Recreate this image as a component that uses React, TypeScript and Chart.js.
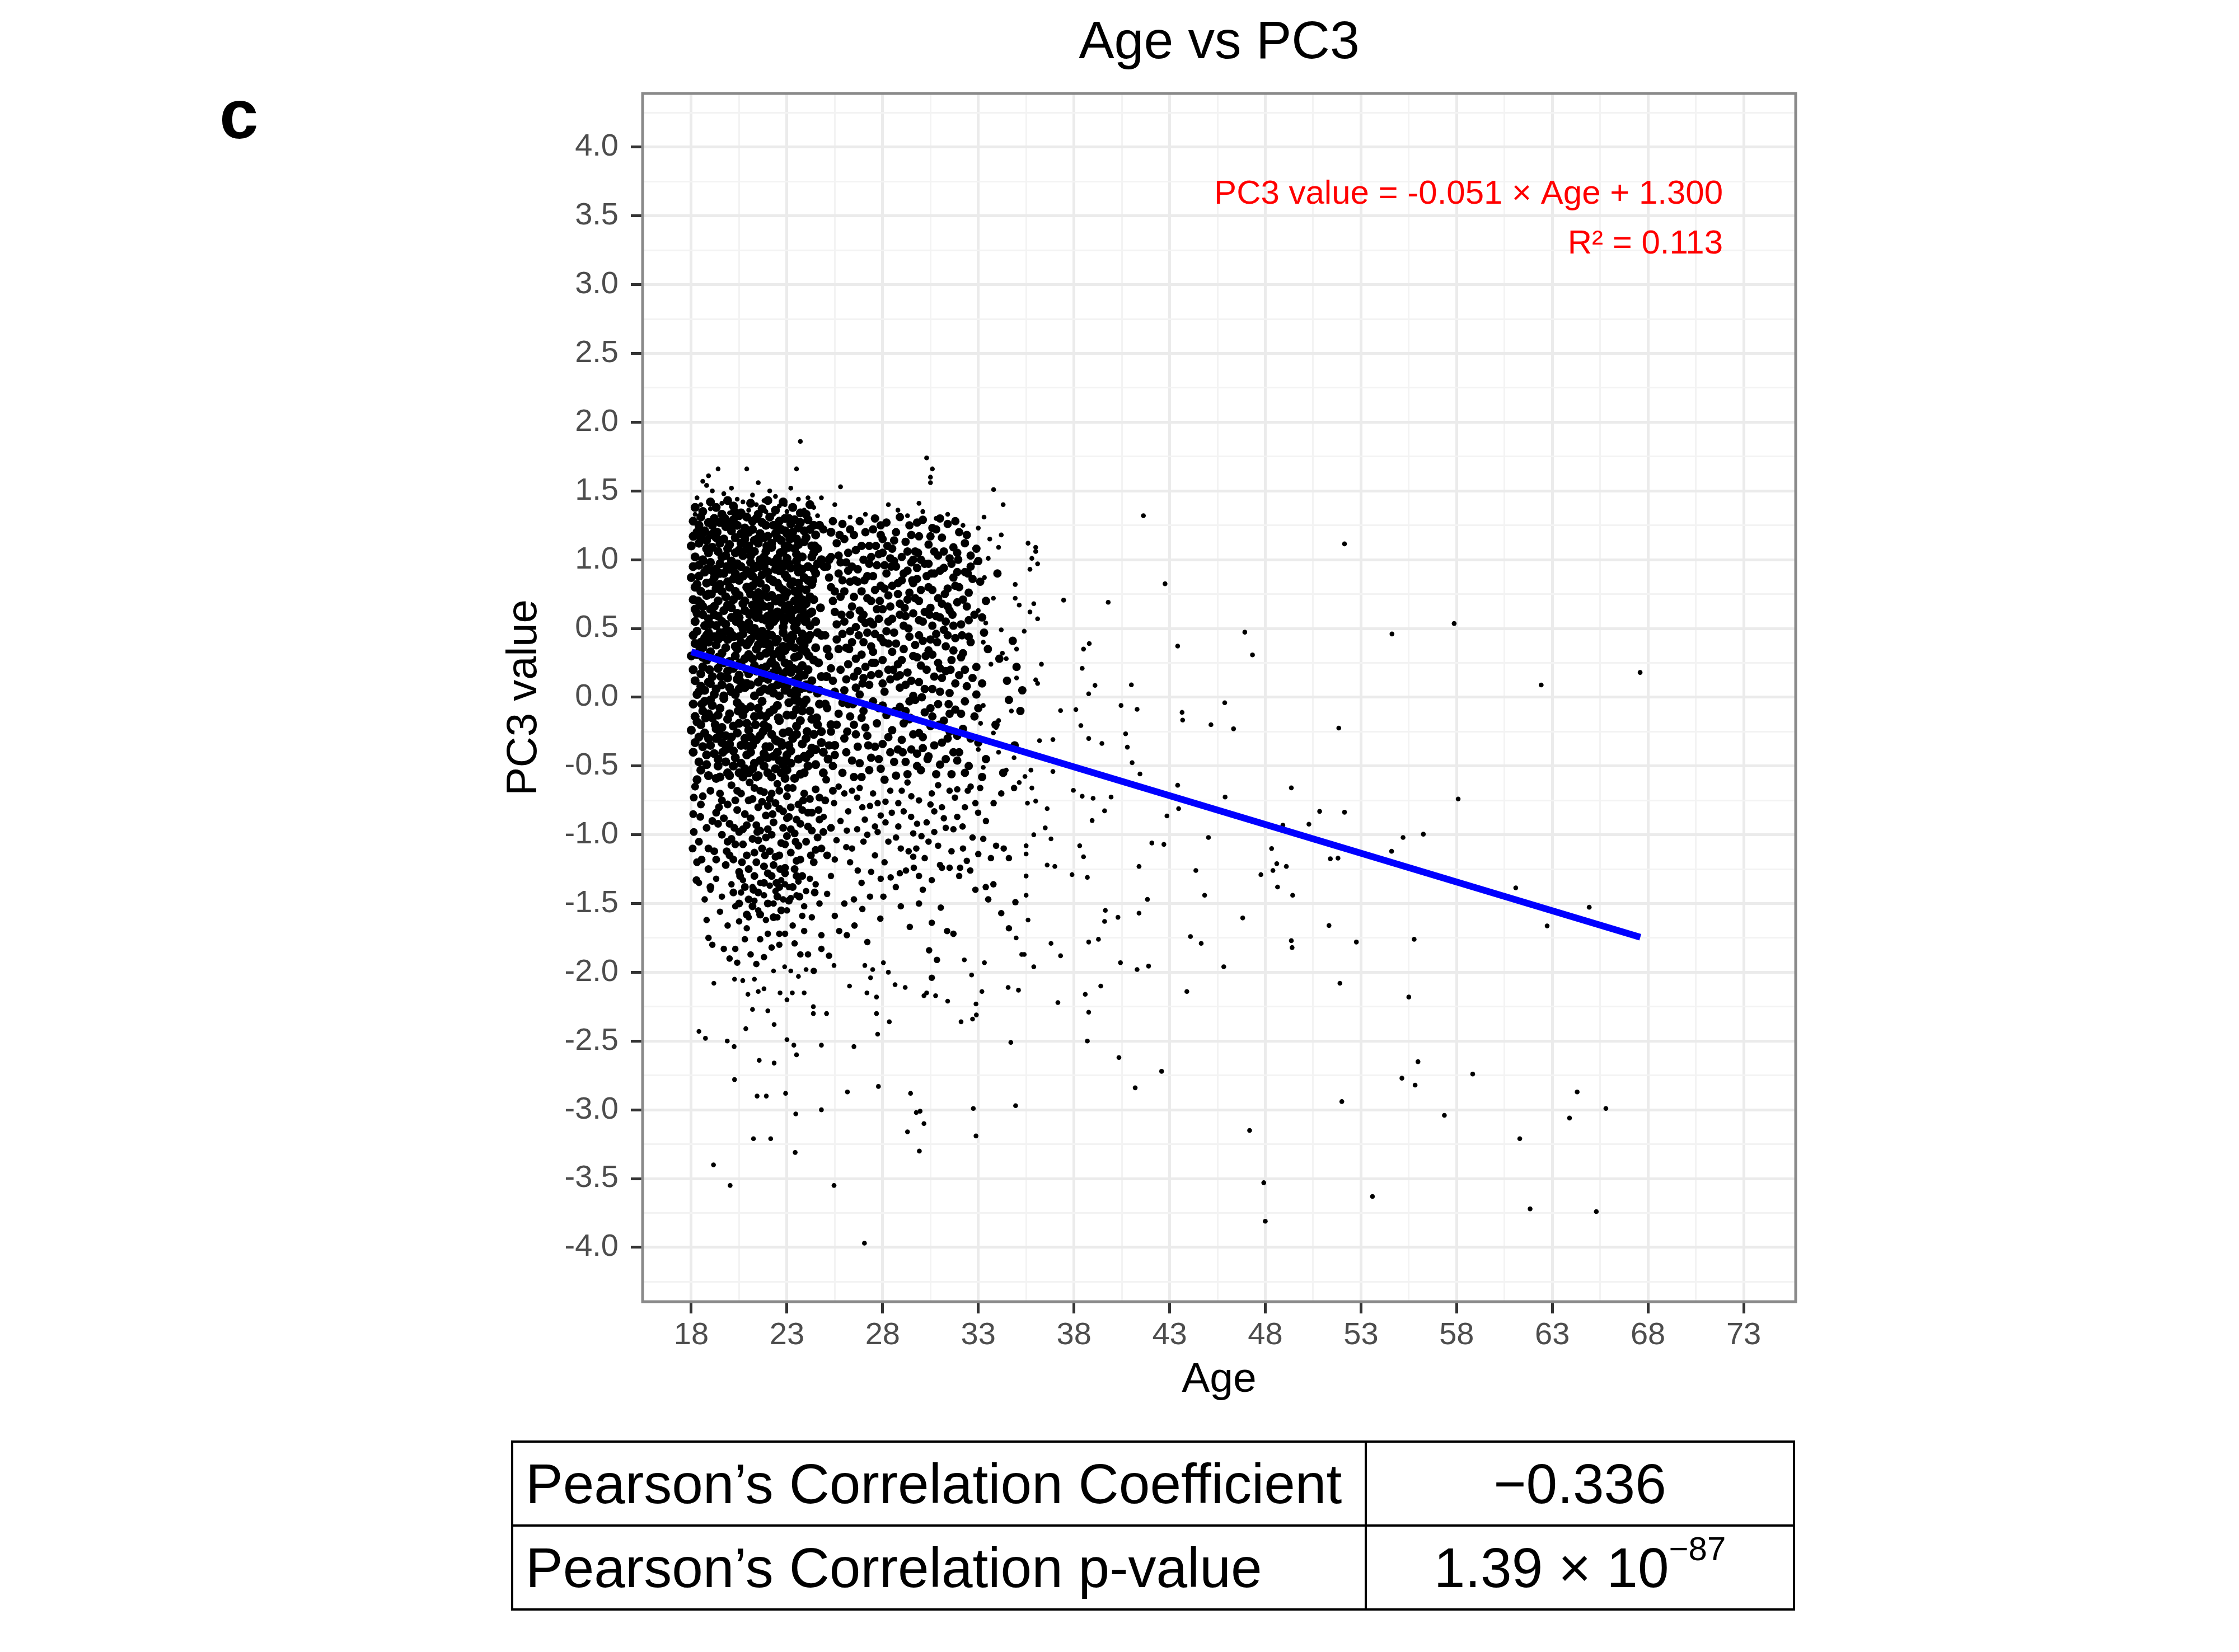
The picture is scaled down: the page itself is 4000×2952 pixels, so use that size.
import React, { useEffect, useRef } from "react";
import { Chart, registerables } from "chart.js";

Chart.register(...registerables);

const FONT = "'Liberation Sans', Arial, Helvetica, sans-serif";

// ---------- data: [age, PC3 value] ----------
// dense core, ages 18-25
const coreHigh: [number, number][] = [
[18.1,1.28],[18.4,1.12],[18.7,1.21],[18.9,1.05],[19.2,1.3],[19.3,1.16],[19.6,1.02],[19.8,1.24],[20.0,1.11],[20.2,1.29],[20.5,1.07],[20.6,1.19],[20.9,1.31],[21.1,1.03],[21.2,1.22],[21.5,1.12],[21.7,1.27],[21.9,1.06],[22.0,1.17],[22.3,1.25],[22.5,1.01],[22.7,1.14],[22.9,1.3],[23.1,1.09],[23.3,1.2],[23.5,1.04],[23.7,1.27],[23.9,1.13],[24.2,1.22],[24.4,1.05],[18.2,1.02],[18.5,1.31],[18.6,1.0],[19.0,1.18],[19.5,1.27],[19.9,1.08],[20.3,1.16],[20.8,1.23],[21.3,1.14],[21.6,1.0],[22.2,1.09],[22.6,1.28],[23.0,1.19],[23.4,1.29],[23.8,1.02],[24.0,1.16],[18.3,1.2],[18.8,1.14],[19.1,1.09],[19.7,1.15],[20.4,1.25],[20.7,1.03],[21.0,1.2],[21.4,1.3],[21.8,1.16],[22.4,1.19],[22.8,1.06],[23.2,1.26],[23.6,1.11],[24.1,1.29],[24.5,1.18],[18.0,1.1],[19.4,1.06],[20.1,1.21],[21.9,1.25],[22.1,1.31],[23.0,1.01],[24.3,1.1],[18.9,1.27],[20.6,1.12],[21.6,1.19],[22.9,1.21],[23.9,1.21],[19.2,1.2],[20.9,1.08],[22.5,1.24],[18.4,1.25],[19.8,1.03],[21.2,1.28],[23.5,1.15],
[18.2,1.38],[18.6,1.35],[19.0,1.42],[19.3,1.38],[19.9,1.43],[20.2,1.39],[20.6,1.34],[21.1,1.41],[21.7,1.37],[22.0,1.43],[22.4,1.36],[22.8,1.42],[23.3,1.38],[23.7,1.34],[24.2,1.4],[18.5,1.16],[19.5,1.12],[20.3,1.05],[21.0,1.1],[21.8,1.02],[22.7,1.22],[23.6,1.23],[24.4,1.25],[19.1,1.25],[20.8,1.15],[22.2,1.12],[23.4,1.08],[24.6,1.08],[18.8,1.08],[20.5,1.32],[21.5,1.33],[22.9,1.1],[24.0,1.33],[19.6,1.33],[21.3,1.06],[23.1,1.3],[18.1,1.17],[20.0,1.26],[22.5,1.16],[24.3,1.02],
[18.65,1.2],[19.35,1.2],[20.25,1.35],[21.45,1.15],[22.65,1.05],[23.15,1.15],[24.45,1.1],[19.75,1.3],[20.75,1.2],[21.95,1.1],[24.7,1.25],[25.2,1.0],[25.3,1.2],[24.8,1.0]
];
const coreUpperMid: [number, number][] = [
[18.1,.95],[18.3,.82],[18.5,.68],[18.2,.55],[18.7,.91],[18.8,.74],[18.6,.6],[19.0,.98],[19.1,.84],[19.2,.66],[19.3,.52],[19.5,.9],[19.6,.77],[19.7,.63],[19.9,.94],[20.0,.8],[20.1,.58],[20.2,.71],[20.4,.97],[20.5,.85],[20.6,.53],[20.7,.68],[20.9,.92],[21.0,.78],[21.1,.61],[21.2,.88],[21.3,.5],[21.4,.72],[21.5,.96],[21.6,.83],[21.7,.57],[21.8,.66],[22.0,.99],[22.1,.86],[22.2,.74],[22.3,.55],[22.4,.93],[22.5,.62],[22.6,.8],[22.7,.69],[22.8,.51],[22.9,.89],[23.0,.76],[23.1,.97],[23.2,.6],[23.3,.84],[23.4,.7],[23.5,.54],[23.6,.91],[23.7,.79],[23.8,.64],[23.9,.87],[24.0,.56],[24.1,.95],[24.2,.73],[24.3,.82],[24.5,.9],[24.6,.97],[18.4,.88],[18.9,.57],[19.4,.7],[19.8,.53],[20.3,.9],[20.8,.63],[21.3,.94],[21.9,.79],[22.3,.98],[22.7,.59],[23.2,.82],[23.6,.66],[24.0,.78],[18.1,.71],[18.6,.99],[19.1,.92],[19.6,.55],[20.2,.86],[20.7,.5],[21.1,.75],[21.6,.69],[22.1,.52],[22.6,.92],[23.1,.67],[23.5,.99],[23.9,.6],[18.3,.61],[18.8,.83],[19.3,.79],[19.9,.67],[20.4,.61],[20.9,.8],[21.4,.85],[21.8,.95],[22.4,.7],[22.9,.64],[23.3,.56],[23.8,.93],[24.3,.62],[18.5,.77],[19.0,.64],[19.5,.97],[20.0,.93],[20.5,.74],[21.0,.54],[21.5,.62],[22.0,.73],[22.5,.83],[23.0,.87],[23.4,.77],[24.4,.71],[18.0,.87],[18.7,.52],[19.2,.87],[19.7,.9],[20.3,.77],[20.6,.95],[21.2,.67],[21.7,.89],[22.2,.61],[22.8,.95],[23.3,.63],[23.7,.58],[24.2,.52],[18.2,.64],[19.4,.59],[20.1,.99],[21.4,.58],[22.0,.59],[22.9,.73],[23.6,.74],[24.1,.85],
[18.4,.96],[18.9,.75],[19.3,.93],[19.8,.73],[20.1,.65],[20.7,.88],[21.1,.98],[21.5,.76],[22.0,.91],[22.4,.57],[22.8,.78],[23.2,.94],[23.6,.83],[24.0,.68],[24.4,.93],[18.6,.66],[19.2,.6],[19.9,.84],[20.5,.58],[21.2,.81],[21.9,.56],[22.6,.72],[23.4,.51],[24.2,.61],[18.2,.8],[19.5,.82],[20.8,.7],[21.7,.74],[22.3,.84],[23.0,.58],[23.8,.71],[24.5,.55],[19.0,.53],[20.2,.94],[21.4,.65],[22.7,.97],[23.5,.64],[18.8,.93],[21.0,.9],[22.1,.66],
[19.05,.75],[18.35,.7],[19.85,.95],[21.05,.6],[22.25,.85],[22.85,.55],[23.55,.95],[24.35,.85],[24.75,.65],[24.95,.95],[21.55,.95],[20.35,.55],[23.95,.55]
];
const coreLowerMid: [number, number][] = [
[18.1,.45],[18.3,.31],[18.2,.12],[18.5,.4],[18.6,.22],[18.7,.05],[18.9,.47],[19.0,.33],[19.1,.15],[19.2,.02],[19.4,.42],[19.5,.27],[19.6,.09],[19.8,.36],[19.9,.19],[20.0,.48],[20.1,.04],[20.3,.3],[20.4,.13],[20.5,.44],[20.6,.24],[20.8,.07],[20.9,.38],[21.0,.17],[21.1,.49],[21.2,.28],[21.3,.01],[21.4,.35],[21.5,.11],[21.6,.43],[21.7,.21],[21.8,.06],[21.9,.32],[22.0,.46],[22.1,.16],[22.2,.26],[22.3,.03],[22.4,.4],[22.5,.2],[22.6,.34],[22.7,.1],[22.8,.47],[22.9,.25],[23.0,.08],[23.1,.37],[23.2,.18],[23.3,.44],[23.4,.29],[23.5,.02],[23.6,.14],[23.7,.41],[23.8,.23],[23.9,.07],[24.0,.33],[24.2,.45],[24.3,.12],[24.6,.03],[24.8,.15],[18.4,.04],[18.8,.27],[19.3,.38],[19.7,.01],[20.2,.21],[20.7,.46],[21.1,.09],[21.6,.3],[22.0,.13],[22.5,.42],[22.9,.05],[23.4,.12],[23.8,.46],[18.1,.2],[18.6,.36],[19.0,.1],[19.5,.47],[20.0,.26],[20.5,.06],[21.0,.4],[21.4,.19],[21.9,.44],[22.3,.31],[22.8,.17],[23.2,.03],[23.6,.3],[24.1,.2],[18.3,.48],[18.9,.11],[19.4,.21],[19.9,.42],[20.4,.35],[20.9,.1],[21.3,.45],[21.8,.39],[22.2,.07],[22.7,.29],[23.1,.24],[23.5,.49],[24.4,.27],[18.0,.3],[18.5,.08],[19.2,.44],[19.7,.25],[20.3,.02],[20.8,.28],[21.5,.38],[22.1,.36],[22.6,.01],[23.0,.43],[23.7,.06],[18.7,.43],[19.6,.32],[20.6,.4],[21.7,.48],[22.4,.23],[23.3,.21],[24.0,.09],
[18.2,.39],[18.5,.17],[18.9,.4],[19.3,.06],[19.6,.44],[19.9,.14],[20.3,.37],[20.6,.11],[21.0,.31],[21.3,.23],[21.6,.04],[21.9,.22],[22.2,.45],[22.5,.09],[22.9,.34],[23.2,.41],[23.6,.2],[23.9,.38],[24.2,.06],[24.5,.36],[18.3,.02],[18.8,.45],[19.4,.29],[20.0,.07],[20.5,.16],[21.1,.42],[21.7,.14],[22.3,.18],[22.8,.37],[23.4,.36],[23.9,.16],[24.6,.47],[18.6,.29],[19.8,.48],[20.9,.2],[22.0,.39],[23.0,.19],[24.1,.42],[20.2,.44],[21.5,.46],
[18.45,.35],[19.55,.15],[20.15,.45],[20.55,.25],[21.65,.45],[22.05,.05],[22.15,.25],[23.25,.45],[23.45,.05],[23.75,.35],[24.15,.3],[24.65,.25],[25.05,.15],[18.95,.2],[25.1,.35],[24.8,.45],[24.7,.05]
];
const coreLow: [number, number][] = [
[18.1,-.05],[18.3,-.18],[18.2,-.33],[18.4,-.47],[18.6,-.1],[18.7,-.26],[18.8,-.42],[18.9,-.57],[19.0,-.02],[19.1,-.15],[19.3,-.3],[19.4,-.5],[19.5,-.08],[19.6,-.22],[19.8,-.38],[19.9,-.55],[20.0,-.12],[20.1,-.29],[20.3,-.44],[20.4,-.04],[20.5,-.19],[20.6,-.35],[20.7,-.58],[20.8,-.09],[21.0,-.24],[21.1,-.4],[21.2,-.52],[21.3,-.14],[21.4,-.31],[21.6,-.46],[21.7,-.03],[21.8,-.2],[21.9,-.36],[22.0,-.55],[22.1,-.11],[22.2,-.27],[22.3,-.43],[22.5,-.06],[22.6,-.17],[22.7,-.33],[22.8,-.49],[22.9,-.59],[23.0,-.13],[23.1,-.25],[23.2,-.39],[23.4,-.02],[23.5,-.21],[23.6,-.45],[23.7,-.56],[23.8,-.1],[24.0,-.3],[24.1,-.5],[24.3,-.16],[24.5,-.38],[24.7,-.05],[24.9,-.55],[18.5,-.53],[19.2,-.41],[19.7,-.01],[20.2,-.5],[20.9,-.42],[21.5,-.08],[22.4,-.52],[23.3,-.3],[23.9,-.43],[18.1,-.4],[18.5,-.2],[19.0,-.35],[19.5,-.58],[20.0,-.34],[20.6,-.48],[21.1,-.07],[21.5,-.57],[22.0,-.22],[22.5,-.4],[23.0,-.53],[23.5,-.09],[24.0,-.02],[24.4,-.27],[18.3,-.6],[18.9,-.3],[19.4,-.13],[20.2,-.21],[20.8,-.3],[21.3,-.48],[21.9,-.14],[22.4,-.31],[23.2,-.48],[23.8,-.34],[18.7,-.03],[19.8,-.47],[21.0,-.55],[22.2,-.58],[23.4,-.59],[24.2,-.41],[18.0,-.24],[19.3,-.59],[20.4,-.26],[21.6,-.28],[22.8,-.26],[24.6,-.2],[19.6,-.33],[20.7,-.13],[21.8,-.5],[23.1,-.04],[24.8,-.33],
[18.2,-.14],[18.4,-.29],[18.8,-.49],[19.1,-.06],[19.5,-.27],[19.9,-.16],[20.2,-.39],[20.5,-.55],[20.9,-.19],[21.2,-.35],[21.6,-.13],[22.0,-.44],[22.3,-.09],[22.7,-.55],[23.1,-.35],[23.5,-.27],[23.9,-.55],[24.2,-.1],[24.5,-.49],[24.8,-.25],[18.6,-.36],[19.3,-.23],[19.8,-.28],[20.6,-.07],[21.1,-.29],[21.8,-.41],[22.5,-.32],[23.0,-.42],[23.7,-.17],[24.3,-.37],[18.9,-.12],[20.0,-.57],[21.4,-.58],[22.6,-.46],[23.3,-.13],[24.0,-.44],[19.4,-.45],[20.8,-.52],[22.1,-.36],[23.6,-.03],
[18.75,-.15],[19.65,-.4],[20.85,-.35],[21.75,-.25],[22.95,-.45],[23.85,-.05],[25.15,-.45],[18.55,-.05],[20.45,-.1],[21.35,-.2],[22.55,-.15],[22.75,-.35],[24.05,-.25],[24.55,-.15],[19.25,-.2],[25.3,-.2],[25.0,-.05],[24.9,-.4],[25.5,-.35]
];

// medium density: young lower band and ages 25-33
const youngBelow: [number, number][] = [
[18.2,-.65],[18.1,-.85],[18.4,-1.05],[18.6,-.72],[18.3,-1.2],[18.8,-.95],[19.0,-.68],[19.2,-1.12],[19.3,-.84],[19.5,-.7],[19.6,-1.0],[19.8,-1.22],[19.9,-.78],[20.0,-.92],[20.1,-.64],[20.3,-1.07],[20.4,-.82],[20.5,-1.27],[20.6,-.7],[20.7,-.96],[20.9,-1.15],[21.0,-.75],[21.1,-.88],[21.2,-1.03],[21.3,-.66],[21.4,-1.2],[21.5,-.8],[21.6,-.97],[21.7,-1.1],[21.8,-.69],[21.9,-.86],[22.0,-1.28],[22.1,-.74],[22.2,-1.0],[22.3,-.91],[22.4,-1.16],[22.5,-.63],[22.6,-.81],[22.7,-1.06],[22.8,-.95],[22.9,-1.24],[23.0,-.72],[23.1,-.87],[23.2,-1.13],[23.3,-.66],[23.4,-.99],[23.5,-1.19],[23.6,-.78],[23.7,-.92],[23.8,-1.3],[23.9,-.7],[24.0,-1.05],[24.1,-.84],[24.3,-.97],[24.4,-1.2],[24.5,-.67],[24.7,-.89],[24.8,-1.1],[25.0,-.75],[25.3,-.95],[25.4,-.68],[20.2,-1.18],[20.8,-.85],[21.4,-.93],[22.0,-.79],[22.6,-.68],[23.2,-.96],[23.8,-.82],[19.4,-.92],[21.0,-1.25],[22.3,-1.22],[24.2,-.74],[20.0,-1.15],[21.7,-.76],[23.5,-.89],[19.7,-.88],[21.2,-.74],[22.8,-.83],[24.6,-1.02],[20.5,-.98],[22.1,-1.12],[23.6,-1.08],[18.9,-1.25],[21.9,-1.02],[23.0,-1.01],
[18.5,-.78],[18.9,-1.1],[19.1,-.9],[19.6,-.75],[20.1,-1.03],[20.4,-.68],[20.9,-.93],[21.3,-1.13],[21.6,-.68],[22.0,-.96],[22.4,-.77],[22.9,-1.07],[23.2,-.8],[23.7,-1.18],[24.1,-.94],[24.5,-1.11],[24.9,-.98],[19.3,-1.18],[20.7,-1.07],[21.5,-1.04],[22.6,-1.15],[23.4,-1.25],[24.3,-.84],[25.1,-1.15],[20.3,-.75],[21.8,-1.23],[23.0,-.88],[24.7,-.73],[19.9,-1.05],[22.2,-.7],
[18.13,-.73],[18.47,-.87],[18.13,-.98],[18.07,-1.1],[18.54,-1.18],[18.27,-1.33],[19.0,-1.38],
[19.45,-.8],[19.85,-1.12],[20.25,-.95],[20.65,-1.2],[21.05,-.62],[21.45,-.98],[21.85,-1.15],[22.25,-.85],[22.65,-1.25],[23.05,-.66],[23.45,-1.05],[23.85,-.75],[24.25,-1.15],[24.65,-.82],[25.05,-.6],[21.25,-1.4],[22.45,-1.35],[23.65,-1.45],[20.55,-1.3],[24.45,-1.42],
[20.2,-1.42],[20.5,-1.5],[20.8,-1.38],[21.0,-1.47],[21.3,-1.3],[21.5,-1.42],[21.8,-1.35],[22.0,-1.5],[22.2,-1.3],[22.5,-1.45],[22.7,-1.55],[22.9,-1.28],[23.1,-1.48],[23.3,-1.38],[21.6,-1.58],[22.3,-1.6],[20.9,-1.58],[21.2,-1.52],[22.6,-1.38],[23.5,-1.3]
];
const youngDeep: [number, number][] = [
[18.7,-1.47],[18.8,-1.62],[18.9,-1.75],[19.1,-1.8],[19.5,-1.56],[19.7,-1.83],[19.9,-1.66],[20.0,-1.9],[20.3,-1.83],[20.4,-1.93],[20.8,-1.76],[21.1,-1.87],[21.4,-1.94],[21.8,-1.89],[22.2,-1.82],[22.6,-1.8],[22.9,-1.72],[23.4,-1.79],[23.7,-1.87],[24.1,-1.87],[24.8,-1.83],[25.2,-1.88],[24.8,-1.73],[24.4,-1.99],[23.8,-1.59],[22.6,-1.72],[18.4,-1.35],[19.0,-1.4],[19.3,-1.32],[19.6,-1.45],[20.1,-1.36],[20.3,-1.52],[20.6,-1.42],[20.7,-1.33],[21.0,-1.6],[21.2,-1.38],[21.3,-1.48],[21.5,-1.55],[21.6,-1.35],[21.8,-1.44],[21.9,-1.62],[22.1,-1.37],[22.3,-1.5],[22.4,-1.41],[22.5,-1.6],[22.7,-1.33],[22.8,-1.47],[23.0,-1.55],[23.1,-1.38],[23.3,-1.66],[23.5,-1.44],[23.6,-1.34],[23.9,-1.52],[24.0,-1.41],[24.3,-1.6],[24.5,-1.36],[24.7,-1.5],[25.1,-1.43],[25.5,-1.59],[20.9,-1.68],[22.0,-1.72],[23.2,-1.46],[21.6,-1.76],[23.9,-1.7],[20.5,-1.63],[22.9,-1.36],[24.2,-1.32]
];
const midHigh: [number, number][] = [
[25.6,1.12],[25.9,1.26],[26.2,1.05],[26.5,1.18],[26.8,1.28],[27.0,1.0],[27.3,1.1],[27.5,1.22],[27.8,1.04],[28.0,1.15],[28.2,1.27],[28.5,1.08],[28.7,1.2],[29.0,1.02],[29.2,1.13],[29.4,1.25],[29.7,1.06],[29.9,1.17],[30.1,1.29],[30.4,1.11],[30.6,1.23],[30.9,1.03],[31.1,1.16],[31.4,1.26],[31.7,1.09],[32.0,1.2],[32.3,1.12],[32.6,1.03],[27.6,1.3],[28.9,1.31],[30.0,1.0],[31.0,1.3],[26.0,1.15],[27.1,1.2],[28.4,1.01],[29.5,1.18],[30.7,1.06],[31.9,1.05],[25.3,1.02],[24.9,1.22],
[25.7,1.03],[26.3,1.22],[26.9,1.1],[27.4,1.02],[27.9,1.25],[28.6,1.14],[29.3,1.06],[29.8,1.27],[30.5,1.17],[31.2,1.06],[31.8,1.28],[32.4,1.18],[28.0,1.05],[29.6,1.0],[30.8,1.22],[26.6,1.07],[27.9,1.18],[31.5,1.01],[25.4,1.28],[32.9,1.08],
[25.75,1.18],[27.65,1.1],[28.25,1.1],[29.85,1.05]
];
const midUpper: [number, number][] = [
[25.1,.95],[25.3,.8],[25.5,.62],[25.7,.9],[25.8,.73],[26.0,.55],[26.1,.98],[26.3,.84],[26.4,.66],[26.6,.51],[26.7,.93],[26.9,.77],[27.0,.6],[27.2,.88],[27.4,.7],[27.5,.53],[27.7,.96],[27.9,.81],[28.0,.64],[28.2,.9],[28.3,.74],[28.5,.57],[28.6,.99],[28.8,.83],[28.9,.68],[29.1,.52],[29.3,.92],[29.4,.76],[29.6,.61],[29.8,.86],[29.9,.7],[30.1,.55],[30.2,.97],[30.4,.8],[30.5,.65],[30.7,.9],[30.9,.72],[31.0,.58],[31.2,.94],[31.4,.79],[31.5,.63],[31.7,.87],[31.9,.69],[32.1,.53],[32.3,.91],[32.5,.76],[32.8,.6],[33.1,.84],[33.4,.7],[34.0,.9],[26.5,.73],[27.8,.57],[28.7,.95],[29.5,.98],[30.6,.52],[31.6,.97],[32.6,.95],[25.9,.85],[27.3,.97],[28.1,.79],[29.0,.85],[30.0,.78],[31.1,.68],[32.0,.8],[26.8,.63],[28.4,.66],[29.7,.72],[31.3,.55],[25.4,.7],[27.6,.78],[30.3,.88],[32.4,.66],[33.0,.99],[26.2,.92],[29.2,.59],
[25.2,.87],[25.6,.53],[26.0,.77],[26.4,.95],[26.9,.57],[27.2,.72],[27.7,.64],[28.1,.96],[28.5,.81],[28.9,.6],[29.3,.71],[29.8,.94],[30.2,.62],[30.6,.78],[31.0,.92],[31.4,.66],[31.8,.81],[32.2,.71],[32.7,.86],[25.8,.98],[26.7,.84],[27.5,.88],[28.3,.55],[29.1,.9],[29.9,.56],[30.8,.59],[31.7,.52],[32.5,.56],[26.3,.6],[27.1,.54],[28.8,.75],[30.4,.97],[31.9,.91],[33.2,.58],[25.5,.77],[29.6,.83],
[25.85,.6],[26.55,.85],[28.45,.95],[29.15,.65],[30.55,.9],[31.25,.75],[31.95,1.0],[27.85,.7],[27.05,.85],[29.55,.85],[30.45,.6],[31.65,.6],[32.45,.9]
];
const midCentre: [number, number][] = [
[25.0,.45],[25.2,.3],[25.4,.12],[25.6,.42],[25.8,.2],[26.0,.05],[26.1,.36],[26.3,.48],[26.5,.15],[26.6,.28],[26.8,.02],[27.0,.4],[27.1,.22],[27.3,.09],[27.5,.33],[27.6,.46],[27.8,.17],[28.0,.27],[28.1,.04],[28.3,.39],[28.4,.13],[28.6,.47],[28.8,.24],[28.9,.07],[29.1,.35],[29.3,.18],[29.4,.44],[29.6,.01],[29.8,.29],[29.9,.11],[30.1,.41],[30.3,.2],[30.4,.34],[30.6,.06],[30.8,.46],[30.9,.25],[31.1,.14],[31.3,.37],[31.5,.03],[31.6,.27],[31.8,.43],[32.0,.16],[32.2,.32],[32.4,.08],[32.6,.4],[32.9,.22],[33.2,.1],[33.5,.35],[34.1,.28],[34.8,.41],[35.0,.22],[26.9,.31],[28.5,.33],[30.0,.23],[31.2,.49],[32.7,.14],[25.5,.04],[27.4,.16],[29.2,.09],[31.0,.04],[26.2,.24],[27.9,.43],[29.7,.38],[33.3,.47],[35.3,.05],[34.5,.12],
[25.3,.21],[25.7,.35],[26.1,.13],[26.4,.4],[26.7,.19],[27.2,.47],[27.6,.25],[28.0,.1],[28.3,.2],[28.7,.39],[29.0,.27],[29.5,.12],[29.9,.45],[30.2,.06],[30.6,.31],[31.0,.21],[31.4,.45],[31.8,.1],[32.1,.29],[32.5,.44],[32.9,.02],[25.9,.46],[26.6,.07],[27.4,.37],[28.2,.48],[28.9,.16],[29.6,.3],[30.5,.42],[31.3,.19],[32.3,.2],[25.1,.15],[27.0,.14],[30.7,.15],[31.7,.34],
[26.25,.35],[26.95,.1],[27.35,.55],[28.05,.4],[28.75,.15],[30.25,.3],[31.55,.2],[26.75,.45],[29.35,.5],[30.05,.0],[30.85,.4],[32.15,.45],[28.55,.2],[27.45,.25]
];
const midLow: [number, number][] = [
[25.1,-.08],[25.3,-.25],[25.5,-.42],[25.7,-.12],[25.9,-.55],[26.0,-.3],[26.2,-.05],[26.4,-.46],[26.5,-.2],[26.7,-.36],[26.9,-.58],[27.0,-.1],[27.2,-.28],[27.4,-.44],[27.5,-.03],[27.7,-.19],[27.9,-.52],[28.0,-.34],[28.2,-.13],[28.4,-.4],[28.5,-.24],[28.7,-.57],[28.9,-.07],[29.0,-.31],[29.2,-.47],[29.4,-.16],[29.5,-.38],[29.7,-.02],[29.9,-.26],[30.0,-.53],[30.2,-.11],[30.4,-.43],[30.5,-.21],[30.7,-.35],[30.9,-.05],[31.0,-.49],[31.2,-.17],[31.4,-.3],[31.6,-.56],[31.8,-.09],[32.0,-.4],[32.2,-.23],[32.5,-.5],[32.8,-.14],[33.0,-.33],[33.4,-.45],[33.9,-.2],[34.3,-.55],[34.9,-.35],[35.2,-.1],[26.3,-.14],[28.1,-.6],[29.8,-.41],[31.5,-.25],[33.2,-.58],[27.8,-.08],[30.1,-.29],[32.3,-.03],[26.8,-.48],[29.3,-.56],[31.9,-.46],[34.6,-.02],
[25.2,-.35],[25.6,-.2],[25.9,-.04],[26.1,-.4],[26.6,-.27],[26.9,-.15],[27.3,-.53],[27.6,-.36],[28.0,-.06],[28.3,-.29],[28.6,-.47],[29.1,-.19],[29.4,-.03],[29.8,-.5],[30.1,-.37],[30.5,-.08],[30.8,-.56],[31.1,-.33],[31.5,-.12],[31.9,-.28],[32.3,-.55],[32.6,-.3],[33.0,-.08],[25.4,-.5],[26.5,-.58],[27.8,-.45],[28.8,-.38],[29.6,-.27],[30.6,-.14],[31.7,-.4],[32.1,-.12],[27.1,-.22],[29.2,-.1],[31.3,-.45],
[29.45,-.15],[30.95,-.2],[26.15,-.25],[27.25,-.35],[28.65,-.1],[31.45,-.05],[26.45,-.05],[30.35,-.45],[29.05,-.4]
];
const midBelow: [number, number][] = [
[25.46,-.77],[24.92,-.87],[25.59,-1.04],[26.13,-.97],[26.4,-1.1],[26.67,-.96],[26.94,-.8],[27.34,-.79],[27.74,-.77],[28.15,-.76],[28.48,-.84],[28.82,-.94],[28.95,-1.1],[29.36,-1.12],[29.76,-1.1],[30.03,-1.01],[30.3,-.91],[30.7,-.83],[31.1,-.8],[31.5,-.68],[31.9,-.87],[32.18,-.94],[32.85,-.77],[33.26,-1.03],[32.99,-.84],[33.66,-1.17],[33.93,-1.08],[34.33,-1.1],[34.6,-1.17],[28.42,-1.31],[28.69,-1.38],[29.22,-1.26],[29.63,-1.24],[30.57,-1.33],[31.1,-1.24],[31.5,-1.24],[32.05,-1.24],[32.58,-1.26],[32.85,-1.4],[33.39,-1.38],[33.79,-1.36],[33.52,-1.47],[34.2,-1.57],[34.6,-1.68],[34.94,-1.49],[26.0,-1.5],[26.5,-1.47],[26.94,-1.54],[27.34,-1.45],[28.04,-1.45],[27.88,-1.61],[27.2,-1.78],[26.13,-1.73],[25.73,-1.7],[26.53,-1.66],[28.95,-1.52],[29.42,-1.67],[29.9,-1.5],[30.57,-1.64],[31.04,-1.53],[31.37,-1.7],[31.7,-1.72],[30.43,-1.84],[30.84,-1.91],[30.57,-2.04],[26.0,-.7],[26.67,-.73],[27.07,-.89],[27.74,-.98],[28.15,-.91],[28.82,-.77],[29.49,-.87],[29.9,-.75],[30.57,-.7],[31.78,-.73],[32.45,-.68],[34.2,-.7],[34.87,-.66],
[25.8,-.9],[26.3,-1.2],[27.0,-1.05],[27.6,-1.15],[28.3,-1.05],[29.0,-.68],[29.6,-.99],[30.9,-1.08],[31.3,-.95],[32.2,-1.1],[32.6,-.65],[27.4,-1.27],[25.3,-1.3],[26.9,-1.35],[30.1,-1.4],
[25.7,-.65],[26.2,-.83],[26.8,-.66],[27.2,-1.0],[27.5,-.7],[27.9,-.86],[28.4,-.68],[28.7,-1.02],[29.1,-.83],[29.5,-.72],[29.8,-.92],[30.2,-1.17],[30.5,-.78],[30.9,-.64],[31.2,-.88],[31.6,-1.12],[31.9,-.67],[32.3,-.8],[32.7,-1.02],[33.1,-.66],[33.4,-.9],[33.8,-.77],[26.1,-1.09],[26.7,-1.26],[27.6,-.94],[28.1,-1.2],[28.9,-1.28],[29.3,-.62],[29.9,-1.3],[30.4,-1.05],[31.0,-1.22],[31.7,-.96],[32.4,-1.19],[33.0,-1.14],[25.5,-1.18],[26.4,-.68],[27.9,-1.32],[29.6,-1.16],[30.7,-.98],[32.0,-1.3]
];

// sparse points
const upperFringe: [number, number][] = [
[18.3,1.45],[18.6,1.57],[18.8,1.54],[18.9,1.61],[19.4,1.66],[19.1,1.5],[19.7,1.48],[20.1,1.52],[20.4,1.44],[20.9,1.66],[21.2,1.47],[21.5,1.56],[21.8,1.43],[22.1,1.5],[22.4,1.46],[22.9,1.4],[23.2,1.52],[23.5,1.66],[23.6,1.44],[23.7,1.86],[24.1,1.45],[24.4,1.38],[24.8,1.45],[18.5,1.4],[19.0,1.37],[19.6,1.41],[20.3,1.38],[20.7,1.42],[21.0,1.36],[21.4,1.4],[21.9,1.35],[22.6,1.39],[23.0,1.35],[23.9,1.36],[18.2,1.33],[20.0,1.34],[22.3,1.33],[24.6,1.32],[25.5,1.4],[25.8,1.53],[26.3,1.31],[27.1,1.33],[27.7,1.3],[28.3,1.4],[28.8,1.36],[29.3,1.32],[29.9,1.41],[30.3,1.74],[30.6,1.66],[30.5,1.6],[30.5,1.56],[30.1,1.35],[30.8,1.3],[31.4,1.33],[32.2,1.25],[33.0,1.23],[33.3,1.31],[33.8,1.51],[34.3,1.4],[33.6,1.15],[34.2,1.18]
];
const edgeFringe: [number, number][] = [
[34.93,.82],[34.93,.72],[35.14,.67],[34.2,.49],[35.0,.35],[34.26,.32],[34.46,.28],[35.0,.14],[34.46,.11],[34.73,-.1],[34.06,-.17],[33.93,-.22],[33.26,-.06],[33.12,-.19],[33.79,-.26],[34.06,-.4],[34.87,-.44],[34.46,-.53],[33.26,-.51],[35.14,-.62],[33.0,-.38],[33.66,.24],[33.26,.4],[33.39,.54],[33.0,.63],[33.79,.72],[33.32,.87],[32.85,.98],[33.52,1.01],[34.06,1.09]
];
const lowerTail: [number, number][] = [
[18.4,-2.43],[18.74,-2.48],[19.88,-2.5],[20.24,-2.54],[19.18,-2.08],[20.26,-2.05],[20.69,-2.06],[21.3,-2.05],[20.96,-2.16],[21.5,-2.14],[21.8,-2.12],[21.2,-2.27],[22.0,-2.28],[20.85,-2.41],[22.33,-2.38],[23.0,-2.49],[23.36,-2.53],[23.5,-2.6],[21.55,-2.64],[22.33,-2.66],[20.26,-2.78],[21.44,-2.9],[21.92,-2.9],[22.93,-2.88],[23.46,-3.03],[24.8,-3.0],[21.25,-3.21],[22.15,-3.21],[23.43,-3.31],[19.16,-3.4],[20.03,-3.55],[25.46,-3.55],[27.05,-3.97],[24.8,-2.53],[26.5,-2.54],[26.16,-2.87],[27.78,-2.83],[29.46,-2.88],[29.76,-3.02],[29.96,-3.01],[30.16,-3.1],[29.3,-3.16],[29.92,-3.3],[32.74,-2.99],[32.88,-3.19],[34.95,-2.97],[34.7,-2.51],[27.74,-2.45],[27.68,-2.3],[28.35,-2.36],[32.1,-2.36],[32.7,-2.34],[32.9,-2.31],[32.88,-2.23],[33.19,-2.14],[32.65,-2.02],[32.27,-1.91],[33.32,-1.93],[34.56,-2.11],[35.1,-2.13],[35.27,-1.87],[34.98,-1.75],[24.38,-2.25],[24.38,-2.3],[25.07,-2.3],[26.27,-2.1],[27.18,-2.15],[27.68,-2.18],[27.37,-2.04],[27.48,-1.98],[27.07,-1.95],[28.04,-1.93],[28.3,-2.0],[28.65,-2.09],[29.18,-2.11],[30.16,-2.17],[30.3,-2.15],[30.77,-2.17],[31.4,-2.21],[25.46,-1.95],[25.2,-1.88],[24.79,-1.83],
[23.9,-2.15],[23.6,-2.03],[23.2,-1.99],[22.88,-1.96],[22.64,-2.15],[23.0,-2.2],[23.28,-2.15],[22.3,-1.99],[24.0,-1.98]
];
const olderUpper: [number, number][] = [
[41.63,1.32],[52.14,1.115],[42.76,.825],[37.46,.706],[39.79,.69],[35.9,.68],[35.7,.62],[36.1,.57],[35.6,1.12],[36.0,1.09],[36.0,1.06],[35.8,1.01],[36.1,.97],[35.7,.93],[35.4,.48],[46.93,.473],[57.87,.536],[54.62,.46],[43.42,.372],[47.33,.308],[38.8,.39],[38.5,.35],[36.3,.24],[38.43,.21],[36.0,.126],[36.1,.1],[39.1,.086],[41.0,.09],[38.77,.025],[62.42,.089],[67.59,.18],[37.3,-.097],[38.1,-.09],[40.46,-.06],[41.3,-.088],[45.88,-.04],[43.65,-.11],[43.68,-.166],[45.16,-.2],[46.34,-.23],[38.36,-.206],[51.84,-.224],[36.2,-.316],[36.9,-.308],[38.77,-.3],[39.46,-.336],[40.7,-.266],[40.79,-.363],[41.04,-.476],[41.45,-.558],[35.75,-.53],[36.9,-.54],[35.44,-.576],[43.42,-.64],[49.36,-.659],[35.8,-.66],[37.97,-.677],[38.43,-.72],[39.0,-.735],[39.94,-.726],[45.9,-.726],[58.08,-.74],[35.57,-.77],[36.0,-.755],[36.6,-.81],[43.47,-.81],[42.86,-.863],[39.6,-.826],[38.95,-.896],[50.84,-.83],[52.14,-.836],[50.28,-.923],[48.92,-.93],[36.5,-.95],[35.9,-1.0],[36.8,-1.03],[45.03,-1.02],[55.2,-1.02],[56.26,-.996],[42.07,-1.06],[42.7,-1.07],[38.3,-1.08],[38.5,-1.16],[54.6,-1.12],[48.33,-1.1],[51.4,-1.175],[51.8,-1.17],[35.5,-1.08],[35.5,-1.14],[36.6,-1.22],[37.0,-1.23],[41.4,-1.23],[48.6,-1.21],[49.1,-1.23]
];
const olderLower: [number, number][] = [
[44.37,-1.26],[47.77,-1.29],[48.4,-1.26],[35.5,-1.3],[37.9,-1.29],[38.7,-1.31],[48.64,-1.38],[49.43,-1.44],[44.83,-1.44],[35.5,-1.44],[41.84,-1.47],[61.09,-1.386],[64.93,-1.527],[62.73,-1.663],[39.64,-1.55],[39.6,-1.63],[40.3,-1.6],[41.4,-1.57],[35.6,-1.62],[46.82,-1.605],[51.33,-1.66],[36.8,-1.79],[38.77,-1.78],[39.28,-1.76],[44.09,-1.74],[44.65,-1.79],[49.36,-1.77],[49.4,-1.82],[52.76,-1.78],[55.78,-1.76],[37.3,-1.88],[35.9,-1.96],[35.4,-1.87],[40.43,-1.93],[41.3,-1.98],[41.9,-1.955],[45.83,-1.96],[39.4,-2.1],[38.59,-2.16],[43.9,-2.14],[51.9,-2.08],[55.5,-2.18],[37.16,-2.22],[38.77,-2.29],[38.7,-2.5],[40.35,-2.62],[42.58,-2.72],[41.2,-2.84],[55.98,-2.65],[58.84,-2.74],[55.14,-2.77],[55.83,-2.82],[52.0,-2.94],[64.3,-2.87],[65.8,-2.99],[63.9,-3.06],[57.36,-3.04],[61.3,-3.21],[47.18,-3.15],[47.92,-3.53],[53.6,-3.63],[48.0,-3.81],[61.84,-3.72],[65.3,-3.74]
];

// fitted line as drawn (end points)
const fitAge = [18, 67.6];
const fitValue = [0.33, -1.745];

// axis ticks
const xTickLabels = [18, 23, 28, 33, 38, 43, 48, 53, 58, 63, 68, 73];
const yTickLabels = [-4.0, -3.5, -3.0, -2.5, -2.0, -1.5, -1.0, -0.5, 0.0, 0.5, 1.0, 1.5, 2.0, 2.5, 3.0, 3.5, 4.0];

// texts
const chartTitle = "Age vs PC3";
const xTitle = "Age";
const yTitle = "PC3 value";
const equationText = "PC3 value = -0.051 \u00d7 Age + 1.300";
const r2Text = "R\u00b2 = 0.113";
const tableLabels = ["Pearson\u2019s Correlation Coefficient", "Pearson\u2019s Correlation p-value"];
const coefficientText = "\u22120.336";
const pValueMantissa = "1.39 \u00d7 10";
const pValueExponent = "\u221287";

// annotation anchor (data coordinates, right aligned)
const annoAge = 71.92;
const annoLine1 = 3.589;
const annoLine2 = 3.226;

const xGrid = [...xTickLabels, ...xTickLabels.slice(0, -1).map((v) => v + 2.5)].sort((a, b) => a - b);
const yGrid = [...yTickLabels, ...yTickLabels.slice(0, -1).map((v) => v + 0.25), -4.25, 4.25].sort((a, b) => a - b);
const isXMajor = (v: number) => xTickLabels.some((t) => Math.abs(t - v) < 1e-6);
const isYMajor = (v: number) => yTickLabels.some((t) => Math.abs(t - v) < 1e-6);

const toXY = (...groups: [number, number][][]) => groups.flat().map(([x, y]) => ({ x, y }));

const panelPlugin = {
  id: "panelDecor",
  afterDatasetsDraw(chart: any) {
    const { ctx, chartArea, scales } = chart;
    const { left, top, right, bottom } = chartArea;
    ctx.save();
    ctx.fillStyle = "#FF0000";
    ctx.font = `60px ${FONT}`;
    ctx.textAlign = "right";
    ctx.textBaseline = "alphabetic";
    const ax = scales.x.getPixelForValue(annoAge);
    ctx.fillText(equationText, ax, scales.y.getPixelForValue(annoLine1));
    ctx.fillText(r2Text, ax, scales.y.getPixelForValue(annoLine2));
    ctx.strokeStyle = "#8A8A8A";
    ctx.lineWidth = 5;
    ctx.strokeRect(left, top, right - left, bottom - top);
    ctx.restore();
  },
};

const dotSet = (label: string, data: { x: number; y: number }[], radius: number, order: number) => ({
  label,
  data,
  backgroundColor: "#000000",
  borderWidth: 0,
  pointRadius: radius,
  order,
});

export default function App() {
  const canvasRef = useRef<HTMLCanvasElement | null>(null);

  useEffect(() => {
    const canvas = canvasRef.current;
    if (!canvas) return;
    const chart = new Chart(canvas, {
      type: "scatter",
      data: {
        datasets: [
          {
            label: "fit",
            data: fitAge.map((a, i) => ({ x: a, y: fitValue[i] })),
            showLine: true,
            borderColor: "#0000FF",
            borderWidth: 12,
            pointRadius: 0,
            order: 0,
          },
          dotSet("core", toXY(coreHigh, coreUpperMid, coreLowerMid, coreLow), 8, 1),
          dotSet("youngBelow", toXY(youngBelow), 7, 2),
          dotSet("mid", toXY(midHigh, midUpper, midCentre, midLow), 7.5, 3),
          dotSet("midBelow", toXY(youngDeep, midBelow), 5.8, 4),
          dotSet("sparse", toXY(upperFringe, edgeFringe, lowerTail, olderUpper, olderLower), 4.3, 5),
        ],
      },
      options: {
        animation: false,
        responsive: false,
        maintainAspectRatio: false,
        events: [],
        layout: { padding: { left: 0, right: 20, top: 0, bottom: 0 } },
        plugins: {
          legend: { display: false },
          tooltip: { enabled: false },
          title: {
            display: true,
            text: chartTitle,
            fullSize: false,
            color: "#000000",
            font: { family: FONT, size: 95, weight: "normal" },
            padding: { top: 21, bottom: 32 },
          },
        },
        scales: {
          x: {
            type: "linear",
            min: 15.455,
            max: 75.72,
            afterBuildTicks: (s: any) => {
              s.ticks = xGrid.map((value) => ({ value }));
            },
            afterFit: (s: any) => {
              s.height = 274;
            },
            ticks: {
              autoSkip: false,
              maxRotation: 0,
              padding: 6,
              color: "#4D4D4D",
              font: { family: FONT, size: 56 },
              callback: (v: any) => (isXMajor(Number(v)) ? String(Number(v)) : ""),
            },
            grid: {
              color: (c: any) => (c.tick && isXMajor(c.tick.value) ? "#EBEBEB" : "#F3F3F3"),
              lineWidth: (c: any) => (c.tick && isXMajor(c.tick.value) ? 5 : 3),
              tickColor: (c: any) => (c.tick && isXMajor(c.tick.value) ? "#333333" : "rgba(0,0,0,0)"),
              tickWidth: 5,
              tickLength: 21,
            },
            border: { display: false },
            title: {
              display: true,
              text: xTitle,
              color: "#000000",
              font: { family: FONT, size: 75 },
              padding: { top: 0, bottom: 89 },
            },
          },
          y: {
            type: "linear",
            min: -4.395,
            max: 4.39,
            afterBuildTicks: (s: any) => {
              s.ticks = yGrid.map((value) => ({ value }));
            },
            afterFit: (s: any) => {
              s.width = 348;
            },
            ticks: {
              autoSkip: false,
              padding: 22,
              color: "#4D4D4D",
              font: { family: FONT, size: 56 },
              callback: (v: any) => (isYMajor(Number(v)) ? Number(v).toFixed(1) : ""),
            },
            grid: {
              color: (c: any) => (c.tick && isYMajor(c.tick.value) ? "#EBEBEB" : "#F3F3F3"),
              lineWidth: (c: any) => (c.tick && isYMajor(c.tick.value) ? 5 : 3),
              tickColor: (c: any) => (c.tick && isYMajor(c.tick.value) ? "#333333" : "rgba(0,0,0,0)"),
              tickWidth: 5,
              tickLength: 21,
            },
            border: { display: false },
            title: {
              display: true,
              text: yTitle,
              color: "#000000",
              font: { family: FONT, size: 76 },
              padding: { top: 91, bottom: 0 },
            },
          },
        },
      },
      plugins: [panelPlugin],
    } as any);
    return () => chart.destroy();
  }, []);

  const cell: React.CSSProperties = {
    border: "4px solid #000",
    padding: 0,
    fontFamily: FONT,
    fontSize: 100,
    color: "#000",
    lineHeight: 1,
    verticalAlign: "middle",
    whiteSpace: "nowrap",
  };

  return (
    <div style={{ position: "absolute", left: 0, top: 0, width: 4000, height: 2952, background: "#fff", overflow: "hidden" }}>
      <div
        style={{
          position: "absolute",
          left: 392,
          top: 141,
          fontFamily: FONT,
          fontWeight: "bold",
          fontSize: 125,
          lineHeight: 1,
          color: "#000",
        }}
      >
        c
      </div>
      <canvas
        ref={canvasRef}
        width={2428}
        height={2600}
        style={{ position: "absolute", left: 800, top: 0, width: 2428, height: 2600 }}
      />
      <table
        style={{
          position: "absolute",
          left: 913,
          top: 2574,
          width: 2294,
          height: 300,
          borderCollapse: "collapse",
          tableLayout: "fixed",
        }}
      >
        <tbody>
          <tr style={{ height: 150 }}>
            <td style={{ ...cell, width: 1499, paddingLeft: 22, textAlign: "left" }}>{tableLabels[0]}</td>
            <td style={{ ...cell, textAlign: "center" }}>{coefficientText}</td>
          </tr>
          <tr style={{ height: 150 }}>
            <td style={{ ...cell, width: 1499, paddingLeft: 22, textAlign: "left" }}>{tableLabels[1]}</td>
            <td style={{ ...cell, textAlign: "center" }}>
              {pValueMantissa}
              <sup style={{ fontSize: 60, lineHeight: 0, verticalAlign: "48px" }}>{pValueExponent}</sup>
            </td>
          </tr>
        </tbody>
      </table>
    </div>
  );
}
